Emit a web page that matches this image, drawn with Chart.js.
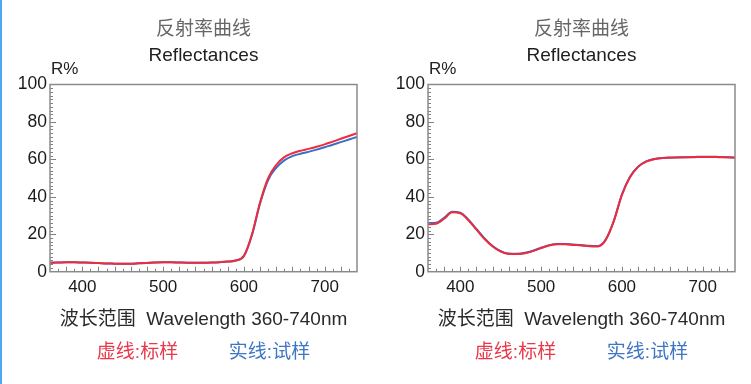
<!DOCTYPE html>
<html>
<head>
<meta charset="utf-8">
<title>反射率曲线</title>
<script src="https://cdn.jsdelivr.net/npm/chart.js@4.4.0/dist/chart.umd.min.js"></script>
<style>
  body { margin: 0; background: #fff; }
  #wrap { position: relative; width: 751px; height: 384px; overflow: hidden; }
  #edge { position: absolute; left: 0; top: 0; width: 2px; height: 384px; background: #4ea6f5; }
  #c1 { position: absolute; left: 0; top: 0; }
  #c2 { position: absolute; left: 375px; top: 0; }
</style>
</head>
<body>
<div id="wrap">
  <canvas id="c1" width="375" height="384"></canvas>
  <canvas id="c2" width="376" height="384"></canvas>
  <div id="edge"></div>
</div>
<script>
// wavelengths in nm, one reading every 10 nm
var wavelengths = [360, 370, 380, 390, 400, 410, 420, 430, 440, 450,
                   460, 470, 480, 490, 500, 510, 520, 530, 540, 550,
                   560, 570, 580, 590, 600, 610, 620, 630, 640, 650,
                   660, 670, 680, 690, 700, 710, 720, 730, 740];

// left panel
var leftStandard = [4.8, 4.9, 5.0, 5.0, 4.9, 4.8, 4.6, 4.4, 4.3, 4.2,
                    4.3, 4.5, 4.7, 4.9, 5.0, 5.0, 4.9, 4.8, 4.8, 4.8,
                    4.9, 5.1, 5.4, 6.0, 8.5, 20, 37, 50, 57, 61.2,
                    63.3, 64.6, 65.6, 66.7, 68, 69.5, 71, 72.5, 74];
var leftSample = [4.8, 4.9, 5.0, 5.0, 4.9, 4.8, 4.6, 4.4, 4.3, 4.2,
                  4.3, 4.5, 4.7, 4.9, 5.0, 5.0, 4.9, 4.8, 4.8, 4.8,
                  4.9, 5.1, 5.4, 6.0, 8.3, 19.5, 36.5, 49, 55.5, 59.5,
                  61.7, 63, 64, 65.2, 66.5, 67.8, 69.2, 70.6, 72];

// right panel
var rightStandard = [25.3, 25.6, 28.3, 31.7, 31.2, 27.5, 22.5, 17.5, 13.5, 10.8,
                     9.5, 9.4, 9.9, 11, 12.6, 14, 14.6, 14.6, 14.3, 14,
                     13.6, 13.5, 17, 27, 41, 50.5, 56, 58.8, 60.1, 60.7,
                     60.9, 61, 61.1, 61.2, 61.3, 61.3, 61.2, 61.1, 60.9];
var rightSample = [26, 26.1, 28.8, 32, 31.5, 27.8, 22.8, 17.8, 13.7, 11,
                   9.7, 9.6, 10.1, 11.2, 12.8, 14.2, 14.8, 14.8, 14.5, 14.2,
                   13.8, 13.7, 17.2, 27.2, 41.2, 50.7, 56.1, 58.9, 60.2, 60.8,
                   61, 61.1, 61.2, 61.3, 61.4, 61.4, 61.3, 61.2, 61];

var xTickValues = [400, 500, 600, 700];
var yTickValues = [0, 20, 40, 60, 80, 100];

var titleCn = "反射率曲线";
var titleEn = "Reflectances";
var xAxisTitle = "波长范围  Wavelength 360-740nm";
var yAxisUnit = "R%";
var legendStandard = "虚线:标样";
var legendSample = "实线:试样";

var fontFamily = "'Liberation Sans', 'Noto Sans CJK SC', Arial, sans-serif";
var redLine = "#ee2a3c";
var blueLine = "#3a6fc6";

function toPoints(values) {
  var pts = [];
  for (var i in values) {
    pts.push({ x: wavelengths[i], y: values[i] });
  }
  return pts;
}

// box round the plot, inner ticks, R% and the colored legend words
var framePlugin = {
  id: "frame",
  afterDatasetsDraw: function(chart) {
    var ctx = chart.ctx;
    var a = chart.chartArea;
    var xs = chart.scales.x;
    var ys = chart.scales.y;
    ctx.save();
    ctx.strokeStyle = "#808080";
    ctx.lineWidth = 1;
    for (var w = 370; w < 740; w += 10) {
      var px = Math.round(xs.getPixelForValue(w)) + 0.5;
      var len = (w % 20 == 0) ? 5 : 3;
      ctx.beginPath();
      ctx.moveTo(px, a.bottom);
      ctx.lineTo(px, a.bottom - len);
      ctx.stroke();
    }
    for (var v = 2; v < 100; v += 2) {
      var py = Math.round(ys.getPixelForValue(v)) + 0.5;
      var len2 = (v % 20 == 0) ? 6 : 3;
      ctx.beginPath();
      ctx.moveTo(a.left, py);
      ctx.lineTo(a.left + len2, py);
      ctx.stroke();
    }
    ctx.lineWidth = 1.5;
    ctx.strokeStyle = "#8a8a8a";
    ctx.strokeRect(a.left, a.top, a.right - a.left, a.bottom - a.top);

    ctx.fillStyle = "#222";
    ctx.font = "17px " + fontFamily;
    ctx.textAlign = "left";
    ctx.textBaseline = "alphabetic";
    ctx.fillText(yAxisUnit, a.left + 1, a.top - 11);

    var mid = (a.left + a.right) / 2;
    ctx.font = "19px " + fontFamily;
    ctx.textAlign = "center";
    ctx.textBaseline = "middle";
    var sets = chart.data.datasets;
    for (var k = 0; k < sets.length; k++) {
      ctx.fillStyle = sets[k].legendColor;
      ctx.fillText(sets[k].legendText, mid + (k == 0 ? -66 : 66), 353);
    }
    ctx.restore();
  }
};

function makeChart(id, standard, sample, plotLeft, padRight) {
  //get canvas
  var ctx = document.getElementById(id);
  var yWidth = 36;

  var data = {
    datasets: [
      {
        label: "标样",
        legendText: legendStandard,
        legendColor: "#e8394a",
        data: toPoints(standard),
        borderColor: redLine,
        backgroundColor: redLine,
        borderWidth: 2,
        pointRadius: 0,
        fill: false,
        cubicInterpolationMode: "monotone",
        order: 0
      },
      {
        label: "试样",
        legendText: legendSample,
        legendColor: "#3f76c4",
        data: toPoints(sample),
        borderColor: blueLine,
        backgroundColor: blueLine,
        borderWidth: 2,
        pointRadius: 0,
        fill: false,
        cubicInterpolationMode: "monotone",
        order: 1
      }
    ]
  };

  var options = {
    responsive: false,
    animation: false,
    events: [],
    layout: {
      padding: { left: plotLeft - yWidth, right: padRight, top: 0, bottom: 52.6 }
    },
    plugins: {
      legend: { display: false },
      tooltip: { enabled: false },
      title: {
        display: true,
        fullSize: false,
        text: titleCn,
        color: "#666",
        font: { family: fontFamily, size: 19, weight: "normal" },
        padding: { top: 18, bottom: 0 }
      },
      subtitle: {
        display: true,
        fullSize: false,
        text: titleEn,
        color: "#1e1e1e",
        font: { family: fontFamily, size: 19, weight: "normal" },
        padding: { top: 3.3, bottom: 17.6 }
      }
    },
    scales: {
      x: {
        type: "linear",
        min: 360,
        max: 740,
        grid: { display: false, drawTicks: false },
        border: { display: false },
        afterBuildTicks: function(s) {
          s.ticks = xTickValues.map(function(v) { return { value: v }; });
        },
        afterFit: function(s) { s.height = 59.7; },
        ticks: {
          maxRotation: 0,
          autoSkip: false,
          padding: 5,
          color: "#1a1a1a",
          font: { family: fontFamily, size: 17 }
        },
        title: {
          display: true,
          text: xAxisTitle,
          color: "#2a2a2a",
          font: { family: fontFamily, size: 19 },
          padding: { top: 0, bottom: 0 }
        }
      },
      y: {
        min: 0,
        max: 100,
        grid: { display: false, drawTicks: false },
        border: { display: false },
        afterBuildTicks: function(s) {
          s.ticks = yTickValues.map(function(v) { return { value: v }; });
        },
        afterFit: function(s) { s.width = yWidth; },
        ticks: {
          padding: 3,
          color: "#1a1a1a",
          font: { family: fontFamily, size: 17.5 }
        }
      }
    }
  };

  return new Chart(ctx, {
    type: "line",
    data: data,
    options: options,
    plugins: [framePlugin]
  });
}

makeChart("c1", leftStandard, leftSample, 50, 18);
makeChart("c2", rightStandard, rightSample, 53, 16);
</script>
</body>
</html>
